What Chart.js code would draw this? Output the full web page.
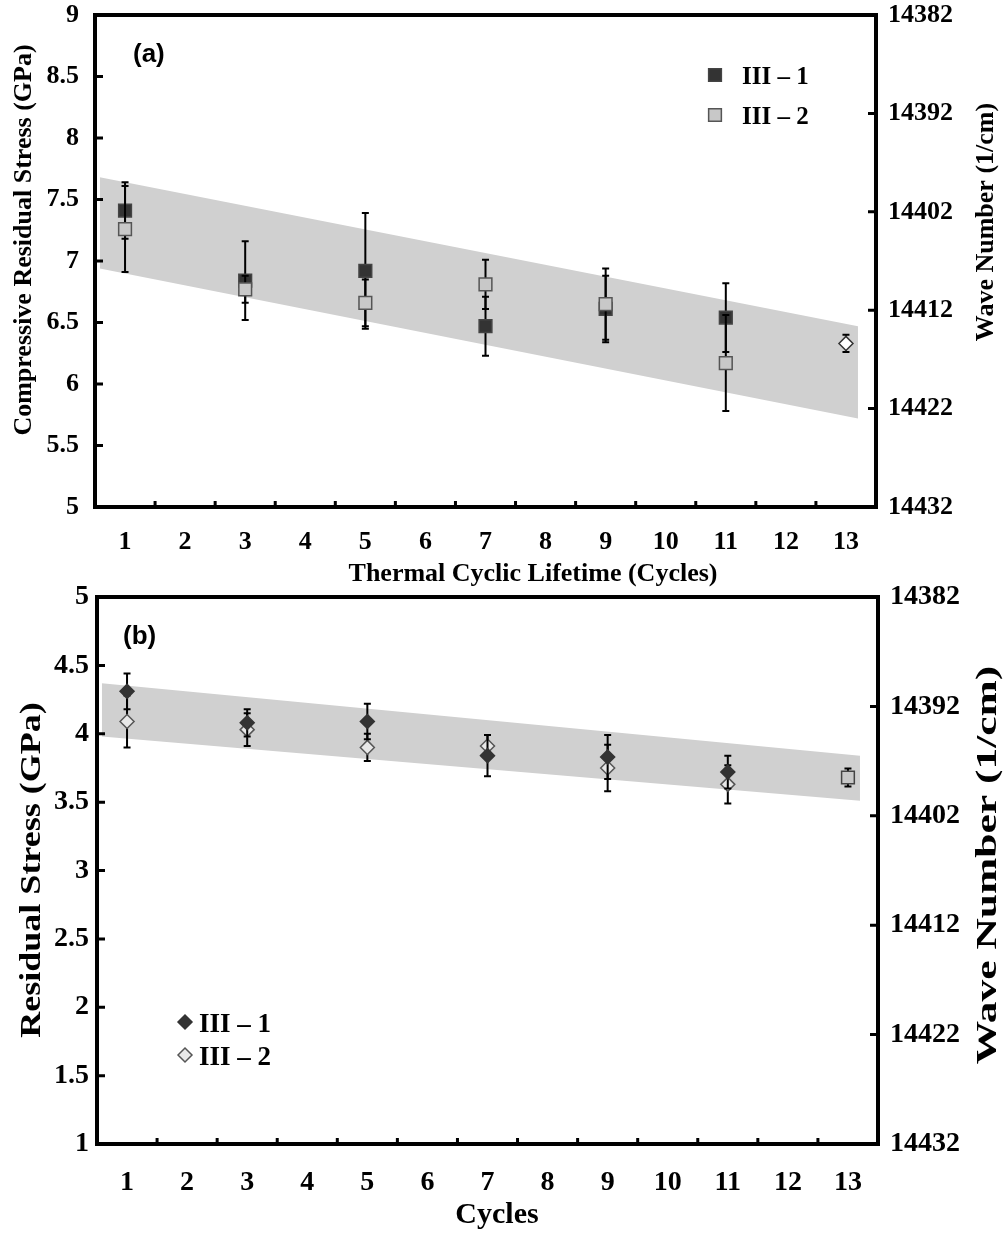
<!DOCTYPE html>
<html>
<head>
<meta charset="utf-8">
<script src="https://cdn.jsdelivr.net/npm/chart.js@4.4.1/dist/chart.umd.min.js"></script>
<style>
  body { margin: 0; background: #fff; }
  #page { position: relative; width: 1005px; height: 1236px; }
  canvas { position: absolute; left: 0; }
</style>
</head>
<body>
<div id="page">
  <canvas id="chartA" width="1005" height="590" style="top:0"></canvas>
  <canvas id="chartB" width="1005" height="661" style="top:575px"></canvas>
</div>
<script>
const cycles = [1, 3, 5, 7, 9, 11];
const xTicks = [1, 2, 3, 4, 5, 6, 7, 8, 9, 10, 11, 12, 13];
const waveTicks = [14382, 14392, 14402, 14412, 14422, 14432];

// (a) compressive residual stress, GPa
const stressA1 = [7.41, 6.84, 6.92, 6.47, 6.61, 6.54];
const errA1 = [0.23, 0.32, 0.47, 0.24, 0.27, 0.28];
const stressA2 = [7.26, 6.77, 6.66, 6.81, 6.65, 6.17];
const errA2 = [0.35, 0.11, 0.19, 0.20, 0.29, 0.39];
const lastA = [13];
const stressA3 = [6.33];
const errA3 = [0.07];
const stressTicksA = [5, 5.5, 6, 6.5, 7, 7.5, 8, 8.5, 9];

// (b) residual stress, GPa
const stressB1 = [4.31, 4.08, 4.09, 3.84, 3.83, 3.72];
const errB1 = [0.13, 0.10, 0.13, 0.15, 0.16, 0.12];
const stressB2 = [4.09, 4.03, 3.90, 3.91, 3.75, 3.63];
const errB2 = [0.19, 0.12, 0.10, 0.08, 0.17, 0.14];
const lastB = [13];
const stressB3 = [3.68];
const errB3 = [0.065];
const stressTicksB = [1, 1.5, 2, 2.5, 3, 3.5, 4, 4.5, 5];

// shaded trend bands
const bandX = [0.58, 13.2];
const bandTopA = [7.68, 6.47];
const bandLowA = [6.94, 5.72];
const bandTopB = [4.37, 3.84];
const bandLowB = [3.98, 3.51];

const SERIF = '"Liberation Serif", "Times New Roman", serif';
const SANS = '"Liberation Sans", Arial, sans-serif';
const DARK = '#333333';
const LIGHT = '#c8c8c8';

const pts = (xs, ys) => xs.map((x, i) => ({ x, y: ys[i] }));

function markerPath(ctx, style, r, x, y) {
  ctx.beginPath();
  if (style === 'rect') {
    const h = r * Math.SQRT1_2;
    ctx.rect(x - h, y - h, 2 * h, 2 * h);
  } else {
    ctx.moveTo(x - r, y);
    ctx.lineTo(x, y - r);
    ctx.lineTo(x + r, y);
    ctx.lineTo(x, y + r);
    ctx.closePath();
  }
}

// error bars, frame with inward ticks, legend, panel letter, axis titles
const decor = {
  id: 'decor',
  beforeDatasetDraw(chart, args) {
    const ds = chart.data.datasets[args.index];
    if (!ds.errors) return;
    const { x, y } = chart.scales;
    const ctx = chart.ctx;
    ctx.save();
    ctx.strokeStyle = '#000';
    ctx.lineWidth = 2;
    ds.data.forEach((p, i) => {
      const px = x.getPixelForValue(p.x);
      const hi = y.getPixelForValue(p.y + ds.errors[i]);
      const lo = y.getPixelForValue(p.y - ds.errors[i]);
      ctx.beginPath();
      ctx.moveTo(px, hi); ctx.lineTo(px, lo);
      ctx.moveTo(px - 3.5, hi); ctx.lineTo(px + 3.5, hi);
      ctx.moveTo(px - 3.5, lo); ctx.lineTo(px + 3.5, lo);
      ctx.stroke();
    });
    ctx.restore();
  },
  afterDraw(chart, args, opts) {
    const ctx = chart.ctx;
    const { left, right, top, bottom } = chart.chartArea;
    const { x, y, y2 } = chart.scales;
    ctx.save();

    // inward tick marks
    ctx.strokeStyle = '#000';
    ctx.lineWidth = 3;
    ctx.beginPath();
    opts.yMarks.forEach(v => {
      const py = y.getPixelForValue(v);
      ctx.moveTo(left, py); ctx.lineTo(left + 8, py);
    });
    waveTicks.slice(1, -1).forEach(v => {
      const py = y2.getPixelForValue(v);
      ctx.moveTo(right, py); ctx.lineTo(right - 8, py);
    });
    xTicks.slice(0, -1).forEach(v => {
      const px = x.getPixelForValue(v + 0.5);
      ctx.moveTo(px, bottom); ctx.lineTo(px, bottom - 6);
    });
    ctx.stroke();

    // frame
    ctx.lineWidth = 4;
    ctx.strokeRect(left, top, right - left, bottom - top);

    // legend
    ctx.textBaseline = 'middle';
    ctx.textAlign = 'left';
    ctx.font = 'bold ' + opts.legend.size + 'px ' + SERIF;
    opts.legend.items.forEach((it, i) => {
      const ds = chart.data.datasets[it.index];
      const ly = opts.legend.y + i * opts.legend.gap;
      markerPath(ctx, ds.pointStyle, ds.pointRadius, opts.legend.x, ly);
      ctx.fillStyle = ds.pointBackgroundColor;
      ctx.fill();
      ctx.lineWidth = ds.pointBorderWidth;
      ctx.strokeStyle = ds.pointBorderColor;
      ctx.stroke();
      ctx.fillStyle = '#000';
      ctx.fillText(ds.label, opts.legend.x + opts.legend.textOffset, ly + 3);
    });

    // panel letter
    ctx.font = 'bold 26px ' + SANS;
    ctx.fillText(opts.panel.text, opts.panel.x, opts.panel.y);

    // axis titles
    ctx.textAlign = 'center';
    opts.titles.forEach(t => {
      ctx.save();
      ctx.translate(t.x, t.y);
      if (t.rot) ctx.rotate(-Math.PI / 2);
      ctx.scale(t.stretch || 1, 1);
      ctx.font = 'bold ' + t.size + 'px ' + SERIF;
      ctx.fillText(t.text, 0, 0);
      ctx.restore();
    });
    ctx.restore();
  }
};

function seriesSet(label, xs, ys, errs, style, fill, border, radius, order) {
  return {
    label,
    data: pts(xs, ys),
    errors: errs,
    showLine: false,
    pointStyle: style,
    pointRadius: radius,
    pointHoverRadius: radius,
    pointBackgroundColor: fill,
    pointBorderColor: border,
    pointBorderWidth: 1.5,
    order
  };
}

function bandSets(top, low) {
  return [
    { data: pts(bandX, top), fill: '+1', backgroundColor: '#d0d0d0', borderWidth: 0, pointRadius: 0, order: 10 },
    { data: pts(bandX, low), fill: false, borderWidth: 0, pointRadius: 0, order: 11 }
  ];
}

// fixed scale box sizes so the plot frame lands where it should
function pinBox(size) {
  return s => {
    if (s.isHorizontal()) s.height = size; else s.width = size;
    s.paddingTop = 0; s.paddingBottom = 0;
    s.paddingLeft = 0; s.paddingRight = 0;
  };
}

function makeOptions(cfg) {
  const tickFont = { family: SERIF, size: cfg.tickSize, weight: 'bold' };
  return {
    responsive: false,
    animation: false,
    layout: { padding: { top: cfg.padTop, right: 0, left: 0, bottom: 0 } },
    plugins: {
      legend: { display: false },
      tooltip: { enabled: false },
      decor: cfg.decor
    },
    scales: {
      x: {
        type: 'linear', min: 0.5, max: 13.5,
        grid: { display: false, drawTicks: false },
        border: { display: false },
        afterBuildTicks: s => { s.ticks = xTicks.map(v => ({ value: v })); },
        afterFit: pinBox(cfg.xHeight),
        ticks: { color: '#000', font: tickFont, padding: cfg.xPad, maxRotation: 0, autoSkip: false, callback: v => String(v) }
      },
      y: {
        type: 'linear', position: 'left', min: cfg.yMin, max: cfg.yMax,
        grid: { display: false, drawTicks: false },
        border: { display: false },
        afterBuildTicks: s => { s.ticks = cfg.yTicks.map(v => ({ value: v })); },
        afterFit: pinBox(cfg.yWidth),
        ticks: { color: '#000', font: tickFont, padding: cfg.yPad, callback: v => String(v) }
      },
      y2: {
        type: 'linear', position: 'right', min: 14382, max: 14432, reverse: true,
        grid: { display: false, drawTicks: false },
        border: { display: false },
        afterBuildTicks: s => { s.ticks = waveTicks.map(v => ({ value: v })); },
        afterFit: pinBox(1005 - cfg.right),
        ticks: { color: '#000', font: tickFont, padding: 12, callback: v => String(v) }
      }
    }
  };
}

new Chart(document.getElementById('chartA'), {
  type: 'line',
  data: {
    datasets: [
      ...bandSets(bandTopA, bandLowA),
      seriesSet('III – 1', cycles, stressA1, errA1, 'rect', DARK, '#444444', 9, 3),
      seriesSet('III – 2', cycles, stressA2, errA2, 'rect', LIGHT, '#555555', 9, 2),
      seriesSet('', lastA, stressA3, errA3, 'rectRot', '#ffffff', '#333333', 7, 1)
    ]
  },
  options: makeOptions({
    padTop: 15, xHeight: 83, xPad: 20, tickSize: 26, yWidth: 95, yPad: 16, right: 876,
    yMin: 5, yMax: 9, yTicks: stressTicksA,
    decor: {
      yMarks: [5.5, 6, 6.5, 7, 7.5, 8, 8.5],
      legend: { x: 715, y: 75, gap: 40, size: 25, textOffset: 27, items: [{ index: 2 }, { index: 3 }] },
      panel: { text: '(a)', x: 133, y: 55 },
      titles: [
        { text: 'Compressive Residual Stress (GPa)', x: 24, y: 240, rot: true, size: 26 },
        { text: 'Wave Number (1/cm)', x: 986, y: 222, rot: true, size: 26 },
        { text: 'Thermal Cyclic Lifetime (Cycles)', x: 533, y: 574, size: 26 }
      ]
    }
  }),
  plugins: [decor]
});

new Chart(document.getElementById('chartB'), {
  type: 'line',
  data: {
    datasets: [
      ...bandSets(bandTopB, bandLowB),
      seriesSet('III – 1', cycles, stressB1, errB1, 'rectRot', DARK, '#333333', 7, 2),
      seriesSet('III – 2', cycles, stressB2, errB2, 'rectRot', '#e8e8e8', '#555555', 7, 3),
      seriesSet('', lastB, stressB3, errB3, 'rect', LIGHT, '#444444', 9, 1)
    ]
  },
  options: makeOptions({
    padTop: 22, xHeight: 92, xPad: 22, tickSize: 28, yWidth: 97, yPad: 8, right: 878,
    yMin: 1, yMax: 5, yTicks: stressTicksB,
    decor: {
      yMarks: [1.5, 2, 2.5, 3, 3.5, 4, 4.5],
      legend: { x: 185, y: 447, gap: 33, size: 27, textOffset: 14, items: [{ index: 2 }, { index: 3 }] },
      panel: { text: '(b)', x: 123, y: 62 },
      titles: [
        { text: 'Residual Stress (GPa)', x: 32, y: 295, rot: true, size: 30, stretch: 1.2 },
        { text: 'Wave Number (1/cm)', x: 988, y: 290, rot: true, size: 30, stretch: 1.45 },
        { text: 'Cycles', x: 497, y: 640, size: 30 }
      ]
    }
  }),
  plugins: [decor]
});
</script>
</body>
</html>
